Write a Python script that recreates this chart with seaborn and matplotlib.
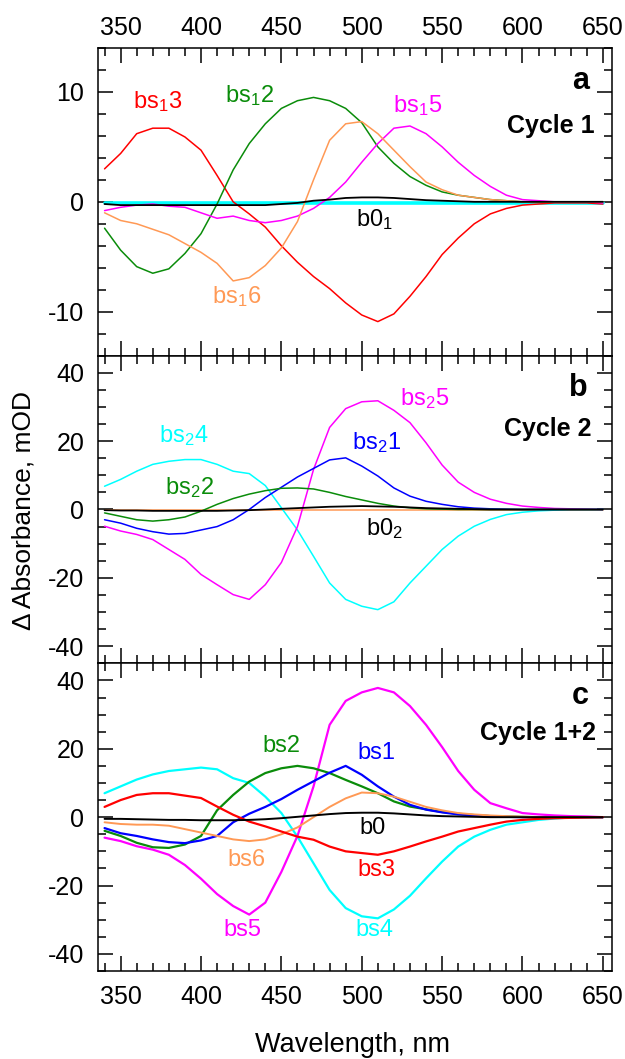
import numpy as np
import seaborn as sns
import matplotlib.pyplot as plt
from matplotlib.ticker import MultipleLocator

# wavelength grid (nm), values every 10 nm
wavelength = np.arange(340, 651, 10)

# panel a - cycle 1
a_bs3 = [3.0, 4.4, 6.2, 6.7, 6.7, 5.9, 4.7, 2.4, 0.0, -1.1, -2.3, -4.0, -5.5, -6.8, -7.9, -9.2,
         -10.3, -10.9, -10.2, -8.6, -6.8, -4.8, -3.3, -2.0, -1.1, -0.6, -0.3, -0.2, -0.1, -0.1, -0.1, -0.2]
a_bs2 = [-2.4, -4.4, -5.9, -6.5, -6.1, -4.7, -2.9, -0.2, 2.9, 5.3, 7.1, 8.5, 9.2, 9.5, 9.2, 8.5,
         7.2, 5.0, 3.5, 2.3, 1.5, 0.9, 0.6, 0.4, 0.2, 0.1, 0.0, 0.0, 0.0, 0.0, 0.0, 0.0]
a_bs5 = [-0.8, -0.5, -0.3, -0.2, -0.4, -0.5, -1.0, -1.5, -1.3, -1.7, -1.9, -1.7, -1.3, -0.6, 0.4, 1.8,
         3.6, 5.3, 6.7, 6.9, 6.2, 5.0, 3.6, 2.4, 1.4, 0.6, 0.2, 0.1, 0.0, 0.0, 0.0, -0.1]
a_bs6 = [-1.0, -1.7, -2.0, -2.5, -3.0, -3.8, -4.6, -5.6, -7.2, -6.9, -5.8, -4.2, -1.8, 2.0, 5.6, 7.1,
         7.3, 6.2, 4.7, 3.2, 1.8, 1.1, 0.6, 0.4, 0.2, 0.1, 0.0, 0.0, 0.0, 0.0, 0.0, 0.0]
a_bs4 = [-0.1, -0.1, -0.1, -0.1, -0.1, -0.1, -0.1, -0.1, -0.1, -0.1, -0.1, -0.1, -0.1, -0.1, -0.1, -0.1,
         -0.1, -0.1, -0.1, -0.1, -0.1, -0.1, -0.1, -0.1, -0.1, -0.1, -0.1, -0.1, -0.1, -0.1, -0.1, -0.1]
a_b0 = [-0.2, -0.3, -0.3, -0.3, -0.3, -0.3, -0.3, -0.3, -0.3, -0.3, -0.3, -0.2, -0.1, 0.1, 0.2, 0.35,
        0.4, 0.4, 0.35, 0.25, 0.15, 0.1, 0.05, 0.0, 0.0, 0.0, 0.0, 0.0, 0.0, 0.0, 0.0, 0.0]

# panel b - cycle 2
b_bs4 = [6.8, 8.8, 11.2, 13.2, 14.1, 14.6, 14.6, 13.2, 11.2, 10.5, 7.0, 0.5, -6.0, -13.7, -21.5, -26.3,
         -28.3, -29.3, -27.0, -21.5, -16.6, -11.7, -7.8, -4.9, -2.9, -1.5, -0.8, -0.4, -0.2, 0.0, 0.0, 0.0]
b_bs5 = [-4.9, -6.3, -7.3, -8.8, -11.7, -14.6, -19.0, -22.0, -24.9, -26.3, -22.0, -15.5, -5.0, 11.7, 24.0, 29.5,
         31.5, 31.8, 29.0, 25.4, 19.5, 13.0, 8.0, 5.0, 3.0, 1.8, 1.0, 0.6, 0.3, 0.2, 0.1, 0.0]
b_bs1 = [-3.0, -4.0, -5.5, -6.5, -7.2, -7.0, -6.0, -5.0, -3.0, 0.0, 3.5, 6.5, 9.5, 12.0, 14.5, 15.1,
         12.7, 9.8, 6.3, 3.9, 2.4, 1.5, 0.8, 0.4, 0.2, 0.1, 0.0, 0.0, 0.0, 0.0, 0.0, 0.0]
b_bs2 = [-1.0, -2.0, -3.0, -3.4, -3.0, -2.2, -0.5, 1.5, 3.2, 4.5, 5.5, 6.2, 6.3, 6.0, 5.0, 3.8,
         2.8, 1.8, 1.0, 0.5, 0.2, 0.1, 0.0, 0.0, 0.0, 0.0, 0.0, 0.0, 0.0, 0.0, 0.0, 0.0]
b_bs6 = [-0.2, -0.2, -0.2, -0.2, -0.2, -0.2, -0.2, -0.2, -0.2, -0.2, -0.2, -0.2, -0.2, -0.2, -0.2, -0.2,
         -0.2, -0.2, -0.2, -0.2, -0.2, -0.2, -0.2, -0.2, -0.2, -0.2, -0.2, -0.2, -0.2, -0.2, -0.2, -0.2]
b_b0 = [-0.2, -0.3, -0.3, -0.4, -0.4, -0.4, -0.4, -0.4, -0.3, -0.2, 0.0, 0.2, 0.4, 0.6, 0.8, 0.9,
        1.0, 0.9, 0.8, 0.6, 0.4, 0.3, 0.2, 0.1, 0.0, 0.0, 0.0, 0.0, 0.0, 0.0, 0.0, 0.0]

# panel c - cycle 1+2
c_bs5 = [-6.0, -7.0, -8.5, -9.5, -11.0, -14.0, -18.0, -22.5, -26.0, -28.5, -25.0, -16.0, -5.5, 9.0, 27.0, 34.0,
         36.5, 37.8, 36.5, 32.5, 27.0, 20.5, 13.5, 8.0, 4.1, 2.6, 1.2, 0.8, 0.5, 0.3, 0.2, 0.0]
c_bs4 = [7.0, 9.0, 11.0, 12.5, 13.5, 14.0, 14.5, 14.0, 11.4, 10.0, 6.0, 1.2, -5.7, -13.5, -21.3, -26.6,
         -29.0, -29.6, -27.0, -23.0, -17.9, -13.0, -8.6, -5.7, -3.7, -2.2, -1.5, -0.8, -0.4, -0.1, 0.0, 0.0]
c_bs2 = [-4.0, -5.5, -7.5, -8.8, -9.0, -8.0, -5.5, 2.0, 6.5, 10.4, 12.9, 14.3, 15.0, 14.3, 12.9, 10.9,
         9.0, 7.0, 4.6, 3.1, 2.3, 1.5, 1.0, 0.6, 0.3, 0.2, 0.1, 0.0, 0.0, 0.0, 0.0, 0.0]
c_bs1 = [-3.2, -4.7, -5.5, -6.5, -7.3, -7.6, -6.8, -5.5, -1.5, 1.0, 3.0, 5.3, 8.0, 10.5, 13.0, 15.0,
         12.4, 9.0, 6.0, 3.6, 2.2, 1.4, 0.8, 0.5, 0.3, 0.1, 0.0, 0.0, 0.0, 0.0, 0.0, 0.0]
c_bs3 = [3.0, 5.0, 6.5, 7.0, 7.0, 6.3, 5.6, 3.1, 0.7, -1.3, -2.7, -4.2, -5.7, -6.6, -8.6, -10.0,
         -10.5, -11.0, -10.0, -8.6, -7.1, -5.7, -4.2, -3.2, -2.2, -1.3, -0.8, -0.5, -0.3, -0.2, -0.1, 0.0]
c_bs6 = [-1.5, -2.0, -2.2, -2.2, -2.5, -3.5, -4.5, -5.5, -6.5, -7.0, -6.5, -5.0, -3.0, 0.0, 3.0, 5.5,
         7.2, 7.0, 6.0, 4.5, 3.0, 2.0, 1.2, 0.8, 0.5, 0.3, 0.1, 0.0, 0.0, 0.0, 0.0, 0.0]
c_b0 = [-0.5, -0.5, -0.6, -0.7, -0.8, -0.8, -0.9, -0.9, -0.9, -0.8, -0.6, -0.3, 0.1, 0.5, 0.9, 1.2,
        1.3, 1.3, 1.1, 0.8, 0.5, 0.3, 0.2, 0.1, 0.0, 0.0, 0.0, 0.0, 0.0, 0.0, 0.0, 0.0]

RED, GREEN, MAG, CYAN, BLUE, ORANGE, BLACK = "#ff0000", "#0a8c0a", "#ff00ff", "#00ffff", "#0000ff", "#ff9955", "#000000"

sns.set_style("ticks")
plt.rcParams['font.family'] = ['Liberation Sans', 'DejaVu Sans']
plt.rcParams['mathtext.fontset'] = 'custom'
plt.rcParams['mathtext.rm'] = 'Liberation Sans'
plt.rcParams['mathtext.default'] = 'regular'
plt.rcParams['axes.unicode_minus'] = False
for key in ['text.color', 'axes.labelcolor', 'xtick.color', 'ytick.color', 'axes.edgecolor']:
    plt.rcParams[key] = 'black'

fig, axes = plt.subplots(3, 1, figsize=(6.25, 10.59), dpi=100, sharex=True)
fig.subplots_adjust(left=0.157, right=0.979, top=0.9547, bottom=0.0831, hspace=0)

panels = [
    [(a_bs4, CYAN, 2.6), (a_bs3, RED, 1.1), (a_bs2, GREEN, 1.1), (a_bs5, MAG, 1.1), (a_bs6, ORANGE, 1.1), (a_b0, BLACK, 1.3)],
    [(b_bs6, ORANGE, 1.1), (b_bs4, CYAN, 1.1), (b_bs5, MAG, 1.1), (b_bs1, BLUE, 1.1), (b_bs2, GREEN, 1.1), (b_b0, BLACK, 1.3)],
    [(c_bs4, CYAN, 1.6), (c_bs5, MAG, 1.6), (c_bs2, GREEN, 1.6), (c_bs1, BLUE, 1.6), (c_bs6, ORANGE, 1.4), (c_bs3, RED, 1.6), (c_b0, BLACK, 1.4)],
]

for ax, series in zip(axes, panels):
    for vals, col, lw in series:
        sns.lineplot(x=wavelength, y=vals, color=col, lw=lw, ax=ax, legend=False)

    ax.set_xlim(336, 655.6)
    ax.xaxis.set_major_locator(MultipleLocator(50))
    ax.xaxis.set_minor_locator(MultipleLocator(10))
    ax.tick_params(which='both', direction='in', top=True, right=True, width=1.1, labelsize=18, pad=10)
    ax.tick_params(which='major', length=11)
    ax.tick_params(which='minor', length=5.5)
    for s in ax.spines.values():
        s.set_linewidth(1.1)
    ax.set_xlabel("")
    ax.set_ylabel("")

axes[0].set_ylim(-14, 14)
axes[0].yaxis.set_major_locator(MultipleLocator(10))
axes[0].yaxis.set_minor_locator(MultipleLocator(2))
for ax in axes[1:]:
    ax.set_ylim(-45, 45)
    ax.yaxis.set_major_locator(MultipleLocator(20))
    ax.yaxis.set_minor_locator(MultipleLocator(5))
axes[0].tick_params(axis='x', labeltop=True, labelbottom=False, pad=6)

lab = dict(fontsize=17, ha='center', va='center')
axes[0].text(373, 9.1, "bs$_1$3", color=RED, **lab)
axes[0].text(430, 9.7, "bs$_1$2", color=GREEN, **lab)
axes[0].text(535, 8.8, "bs$_1$5", color=MAG, **lab)
axes[0].text(508, -1.6, "b0$_1$", color=BLACK, **lab)
axes[0].text(422, -8.6, "bs$_1$6", color=ORANGE, **lab)

axes[1].text(389, 21.6, "bs$_2$4", color=CYAN, **lab)
axes[1].text(393, 6.5, "bs$_2$2", color=GREEN, **lab)
axes[1].text(509, 19.7, "bs$_2$1", color=BLUE, **lab)
axes[1].text(539, 32.4, "bs$_2$5", color=MAG, **lab)
axes[1].text(514, -5.7, "b0$_2$", color=BLACK, **lab)

axes[2].text(450, 20.7, "bs2", color=GREEN, **lab)
axes[2].text(509, 18.7, "bs1", color=BLUE, **lab)
axes[2].text(506.5, -3.2, "b0", color=BLACK, **lab)
axes[2].text(428, -12.5, "bs6", color=ORANGE, **lab)
axes[2].text(509, -15.4, "bs3", color=RED, **lab)
axes[2].text(426, -33, "bs5", color=MAG, **lab)
axes[2].text(508, -33, "bs4", color=CYAN, **lab)

letters = [("a", "Cycle 1", 0.955, 0.967, 0.723), ("b", "Cycle 2", 0.953, 0.961, 0.739), ("c", "Cycle 1+2", 0.955, 0.969, 0.751)]
for ax, (let, cyc, xl, xc, yc) in zip(axes, letters):
    ax.text(xl, 0.868, let, transform=ax.transAxes, ha='right', va='baseline', fontsize=22, fontweight='bold')
    ax.text(xc, yc, cyc, transform=ax.transAxes, ha='right', va='baseline', fontsize=18, fontweight='bold')

fig.text(0.038, 0.5175, "Δ Absorbance, mOD", rotation=90, ha='center', va='center', fontsize=19)
fig.text(0.564, 0.0132, "Wavelength, nm", ha='center', va='center', fontsize=19.5)

fig.savefig("out.png", dpi=100)
